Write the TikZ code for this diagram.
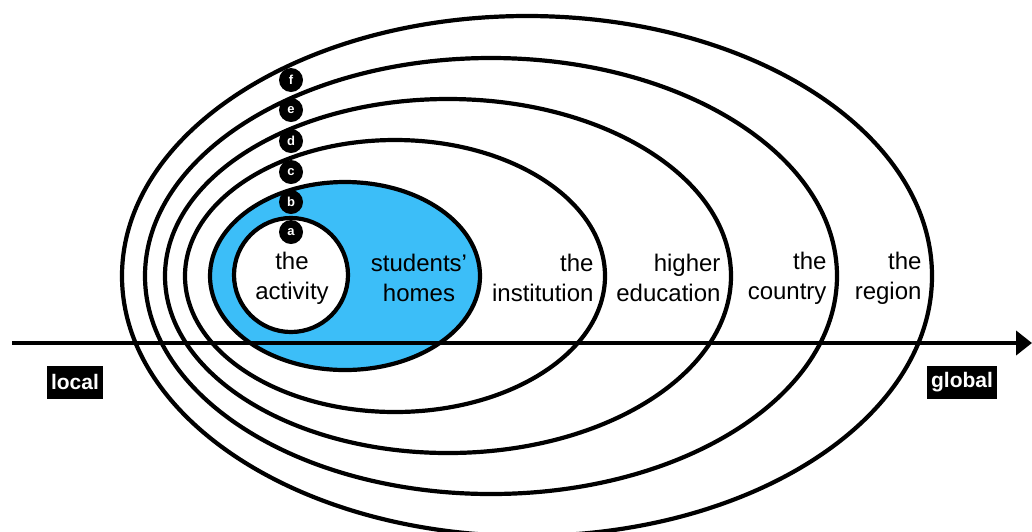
\documentclass[tikz,border=0pt]{standalone}
\usepackage{fontspec}
\setmainfont{Liberation Sans}
\usetikzlibrary{shapes,arrows.meta,positioning}
\definecolor{homesblue}{RGB}{60,190,248}

\begin{document}
\begin{tikzpicture}[x=1pt, y=-1pt]
        \tikzstyle{ring} = [ellipse, draw, line width=4.2pt, inner sep=0pt]
        \tikzstyle{tag} = [circle, fill=black, text=white, inner sep=0pt, minimum size=24pt, font=\fontsize{13}{13}\selectfont\bfseries]
        \tikzstyle{scope} = [font=\fontsize{24}{30}\selectfont, align=right, anchor=east]
        \tikzstyle{endlabel} = [fill=black, text=white, inner xsep=4pt, inner ysep=0pt, minimum height=33pt, font=\fontsize{21}{21}\selectfont\bfseries]
        \tikzstyle{axis} = [draw, line width=4.2pt, -{Triangle[length=16pt,width=24pt]}]

    \useasboundingbox (0,0) rectangle (1032,531);

    % nested spheres, outermost first
    \node [ring, minimum width=810pt, minimum height=520pt] (region) at (527,276) {};
    \node [ring, minimum width=692pt, minimum height=436pt] (country) at (491,276) {};
    \node [ring, minimum width=566pt, minimum height=354pt] (higher_ed) at (448,276) {};
    \node [ring, minimum width=420pt, minimum height=272pt] (institution) at (395,276) {};
    \node [ring, fill=homesblue, minimum width=270pt, minimum height=188pt] (homes) at (345,276) {};
    \node [ring, circle, fill=white, minimum size=114pt] (activity) at (291,275) {};

    \coordinate (local_end) at (12,343);
    \coordinate (global_end) at (1032,343);
    \path [axis] (local_end) -- (global_end);

    \node [tag] (tag_a) at (291,232) {a};
    \node [tag] (tag_b) at (291,202) {b};
    \node [tag] (tag_c) at (291,172) {c};
    \node [tag] (tag_d) at (291,141) {d};
    \node [tag] (tag_e) at (291,110) {e};
    \node [tag] (tag_f) at (291,80) {f};

    \node [scope, align=center, anchor=center] (activity_text) at (292,278) {the\\activity};
    \node [scope, align=center, anchor=center] (homes_text) at (419,278) {students'\\homes};
    \node [scope] (institution_text) at (597,278) {the\\institution};
    \node [scope] (higher_ed_text) at (724,278) {higher\\education};
    \node [scope] (country_text) at (830,278) {the\\country};
    \node [scope] (region_text) at (925,278) {the\\region};

    \node [endlabel] (local) at (75,382) {local};
    \node [endlabel] (global) at (962,382) {global};

    \end{tikzpicture}
\end{document}
